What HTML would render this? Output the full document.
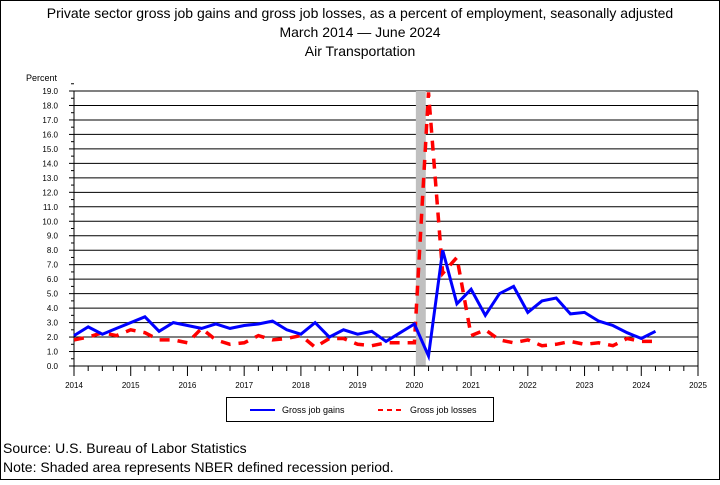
<!DOCTYPE html>
<html><head><meta charset="utf-8"><style>
body{margin:0;background:#fff;}
svg text{font-family:"Liberation Sans",sans-serif;fill:#000;}
</style></head><body>
<svg width="720" height="480" viewBox="0 0 720 480">
<rect x="0.5" y="0.5" width="719" height="479" fill="#fff" stroke="#000"/>
<text x="360" y="18" text-anchor="middle" font-size="14">Private sector gross job gains and gross job losses, as a percent of employment, seasonally adjusted</text>
<text x="360" y="37" text-anchor="middle" font-size="14">March 2014 — June 2024</text>
<text x="360" y="56" text-anchor="middle" font-size="14">Air Transportation</text>
<text x="26" y="81" font-size="9">Percent</text>
<g id="grid"></g>
<rect id="recession" fill="#c0c0c0"/>
<g id="axes"></g>
<path id="losses" fill="none" stroke="#ff0000" stroke-width="3.5" stroke-dasharray="10,8"/>
<path id="gains" fill="none" stroke="#0000ff" stroke-width="3"/>
<g>
<rect x="226.5" y="397.5" width="267" height="24" fill="#fff" stroke="#000"/>
<line x1="250" y1="410" x2="275" y2="410" stroke="#0000ff" stroke-width="2"/>
<text x="282" y="413" font-size="9">Gross job gains</text>
<line x1="378" y1="410" x2="403" y2="410" stroke="#ff0000" stroke-width="2" stroke-dasharray="5,4"/>
<text x="410" y="413" font-size="9">Gross job losses</text>
</g>
<text x="3" y="453" font-size="14">Source: U.S. Bureau of Labor Statistics</text>
<text x="3" y="472" font-size="14">Note: Shaded area represents NBER defined recession period.</text>
</svg>
<script>
const gains=[2.1,2.7,2.2,2.6,3.0,3.4,2.4,3.0,2.8,2.6,2.9,2.6,2.8,2.9,3.1,2.5,2.2,3.0,2.0,2.5,2.2,2.4,1.7,2.3,2.9,0.7,8.0,4.3,5.3,3.5,5.0,5.5,3.7,4.5,4.7,3.6,3.7,3.1,2.8,2.3,1.9,2.4];
const losses=[1.8,2.0,2.3,2.1,2.5,2.3,1.8,1.8,1.6,2.6,1.8,1.5,1.6,2.1,1.8,1.9,2.1,1.3,1.9,1.9,1.5,1.4,1.6,1.6,1.6,18.9,6.4,7.5,2.1,2.5,1.8,1.6,1.8,1.4,1.5,1.7,1.5,1.6,1.4,1.9,1.7,1.7];
const yTicks=[0,1,2,3,4,5,6,7,8,9,10,11,12,13,14,15,16,17,18,19];
const years=[2014,2015,2016,2017,2018,2019,2020,2021,2022,2023,2024,2025];
const recessionStart=24, recessionEnd=25;
const X0=74,X1=698,Y0=366,Y1=91,NS='http://www.w3.org/2000/svg';
const xq=i=>X0+i*(X1-X0)/44;
const y=v=>Y0-(v/19)*(Y0-Y1);
function mk(tag,attrs,parent){const e=document.createElementNS(NS,tag);for(const k in attrs)e.setAttribute(k,attrs[k]);parent.appendChild(e);return e;}
const grid=document.getElementById('grid'),axes=document.getElementById('axes');
yTicks.forEach(v=>{
 const l=mk('line',{x1:X0,x2:X1,y1:y(v),y2:y(v),stroke:'#000','stroke-width':1},grid);
 
 
 mk('line',{x1:X0-5,x2:X0,y1:y(v),y2:y(v),stroke:'#000'},axes);
 mk('line',{x1:X0-3,x2:X0,y1:y(v+0.5),y2:y(v+0.5),stroke:'#000'},axes);
 const tx=mk('text',{x:X0-16,y:y(v)+3,'font-size':8,'text-anchor':'end'},axes);
 tx.textContent=v.toFixed(1);
 
 
});
const r=document.getElementById('recession');
const rw=(xq(recessionEnd)-xq(recessionStart));
r.setAttribute('x',xq(recessionStart)+1.5);r.setAttribute('width',rw*0.7);
r.setAttribute('y',Y1);r.setAttribute('height',Y0-Y1);
mk('line',{x1:X0,x2:X0,y1:Y1,y2:Y0,stroke:'#000'},axes);
mk('line',{x1:X1,x2:X1,y1:Y1,y2:Y0,stroke:'#000'},axes);
mk('line',{x1:X0,x2:X1,y1:Y0,y2:Y0,stroke:'#000'},axes);
for(let i=0;i<=44;i++){mk('line',{x1:xq(i),x2:xq(i),y1:Y0,y2:Y0+(i%4==0?10:5),stroke:'#000'},axes);}
years.forEach((yr,k)=>{
 const t=mk('text',{x:xq(k*4),y:Y0+22,'font-size':8,'text-anchor':'middle'},axes);
 t.textContent=yr;
 
 
});
const path=a=>a.map((v,i)=>(i?'L':'M')+xq(i).toFixed(1)+','+y(v).toFixed(1)).join('');
document.getElementById('gains').setAttribute('d',path(gains));
document.getElementById('losses').setAttribute('d',path(losses));
</script>
</body></html>
